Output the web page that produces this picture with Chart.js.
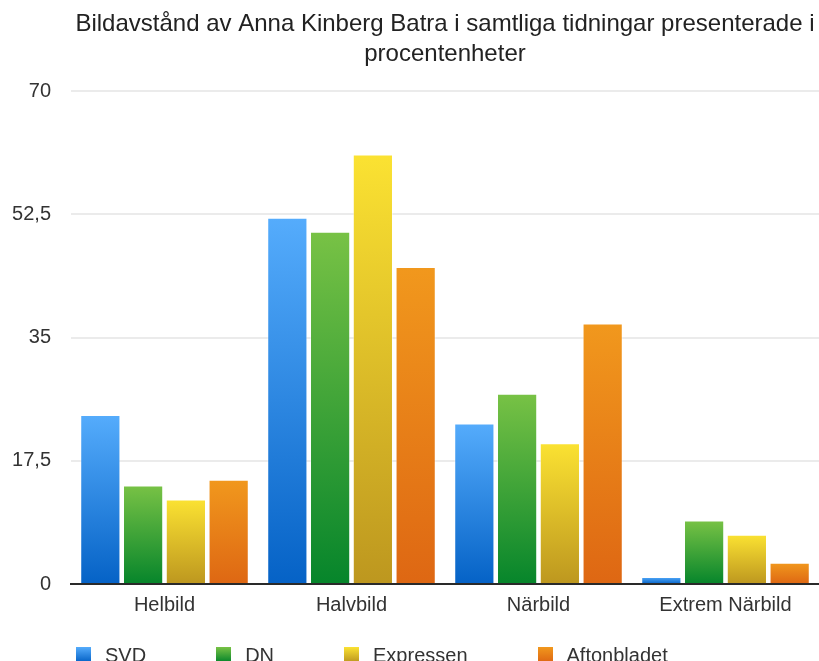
<!DOCTYPE html>
<html>
<head>
<meta charset="utf-8">
<script src="https://cdn.jsdelivr.net/npm/chart.js@4/dist/chart.umd.min.js"></script>
<style>
  html, body { margin: 0; padding: 0; background: #fff; overflow: hidden; }
  #wrap { position: relative; width: 819px; height: 661px; overflow: hidden; }
  #legend {
    position: absolute; left: 76px; top: 645px;
    display: flex; font-family: "Liberation Sans", Arial, sans-serif;
    font-size: 20px; line-height: 20px; color: #333;
  }
  #legend .item { display: flex; align-items: flex-start; margin-right: 70px; }
  #legend .box { width: 15px; height: 15px; margin-top: 2px; margin-right: 14px; }
</style>
</head>
<body>
<div id="wrap">
  <canvas id="chart" width="819" height="661"></canvas>
  <div id="legend"></div>
</div>
<script>
// ==========================
// DATA
// ==========================
var titleLines = ['Bildavstånd av Anna Kinberg Batra i samtliga tidningar presenterade i', 'procentenheter'];
var categories = ['Helbild', 'Halvbild', 'Närbild', 'Extrem Närbild'];
var seriesNames = ['SVD', 'DN', 'Expressen', 'Aftonbladet'];
var svd         = [24, 52, 22.8, 1];
var dn          = [14, 50, 27, 9];
var expressen   = [12, 61, 20, 7];
var aftonbladet = [14.8, 45, 37, 3];
var yTicks = [0, 17.5, 35, 52.5, 70];

// gradient top / bottom per series
var topColors    = ['#55acfc', '#78c245', '#fbe232', '#f1981d'];
var bottomColors = ['#0562c6', '#06852b', '#bd971f', '#de6713'];

Chart.defaults.font.family = '"Liberation Sans", Arial, sans-serif';
Chart.defaults.color = '#333';

function barGradient(i) {
  return function(ctx) {
    var chart = ctx.chart;
    if (!chart.chartArea || ctx.type !== 'data') return bottomColors[i];
    var y = chart.scales.y;
    var yTop  = y.getPixelForValue(ctx.raw);
    var yBase = y.getPixelForValue(0);
    if (!isFinite(yTop) || yBase - yTop < 1) return bottomColors[i];
    var g = chart.ctx.createLinearGradient(0, yTop, 0, yBase);
    g.addColorStop(0, topColors[i]);
    g.addColorStop(1, bottomColors[i]);
    return g;
  };
}

var allValues = [svd, dn, expressen, aftonbladet];
var datasets = seriesNames.map(function(name, i) {
  return {
    label: name,
    data: allValues[i],
    backgroundColor: barGradient(i),
    borderColor: 'rgba(255,255,255,0.45)',
    borderWidth: 1,
    categoryPercentage: 0.915,
    barPercentage: 0.94
  };
});

new Chart(document.getElementById('chart'), {
  type: 'bar',
  data: { labels: categories, datasets: datasets },
  options: {
    responsive: false,
    animation: false,
    layout: { padding: { left: 0, right: 0, top: 0, bottom: 35 } },
    plugins: {
      legend: { display: false },
      tooltip: { enabled: false },
      title: {
        display: true,
        fullSize: false,
        text: titleLines,
        color: '#222',
        font: { size: 24, weight: 'normal', lineHeight: 1.25 },
        padding: { top: 9, bottom: 22 }
      }
    },
    scales: {
      x: {
        grid: { display: false, drawTicks: false },
        border: { display: true, color: '#2a2a2a', width: 2 },
        ticks: { font: { size: 20 }, color: '#333', padding: 9, maxRotation: 0 }
      },
      y: {
        min: 0,
        max: 70,
        afterBuildTicks: function(scale) {
          scale.ticks = yTicks.map(function(v) { return { value: v }; });
        },
        afterFit: function(scale) { scale.width = 71; },
        grid: { color: '#ebebeb', lineWidth: 2, drawTicks: false },
        border: { display: false },
        ticks: {
          font: { size: 20 },
          color: '#333',
          padding: 20,
          callback: function(v) { return String(v).replace('.', ','); }
        }
      }
    }
  }
});

// legend (html, under canvas)
var legendEl = document.getElementById('legend');
seriesNames.forEach(function(name, i) {
  var item = document.createElement('div');
  item.className = 'item';
  var box = document.createElement('span');
  box.className = 'box';
  box.style.background = 'linear-gradient(' + topColors[i] + ', ' + bottomColors[i] + ')';
  var txt = document.createElement('span');
  txt.textContent = name;
  item.appendChild(box);
  item.appendChild(txt);
  legendEl.appendChild(item);
});
</script>
</body>
</html>
